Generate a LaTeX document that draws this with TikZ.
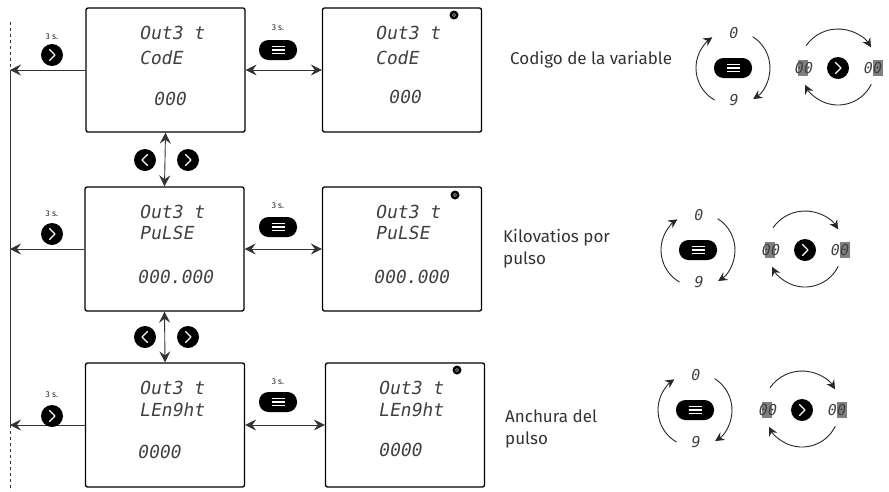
\documentclass[tikz,border=0pt]{standalone}
\usepackage{fontspec}
\setmainfont{Fira Sans}
\newfontfamily\segfont{DejaVu Sans Mono}[FakeSlant=0.18]
\usetikzlibrary{arrows.meta,calc}

\tikzset{
  screen/.style={draw=black,line width=1.3pt,rounded corners=2pt,minimum width=159pt,minimum height=124pt,inner sep=0pt},
  seg/.style={font=\segfont\fontsize{18}{18}\selectfont,text=black!75,inner sep=0pt,anchor=west},
  segsmall/.style={font=\segfont\fontsize{15}{15}\selectfont,text=black!75,inner sep=0pt},
  flow/.style={line width=0.9pt,draw=black!80,-{Stealth[length=11pt,width=11pt,inset=4pt]}},
  twoway/.style={line width=0.9pt,draw=black!80,{Stealth[length=11pt,width=11pt,inset=4pt]}-{Stealth[length=11pt,width=11pt,inset=4pt]}},
  turn/.style={line width=0.9pt,draw=black!85,-{Stealth[length=9pt,width=9pt,inset=3pt]}},
  secs/.style={font=\fontsize{8.5}{8.5}\selectfont,text=black!85,inner sep=0pt},
  caption/.style={font=\fontsize{17}{22}\selectfont,text=black!80,anchor=west,align=left,inner sep=0pt},
  nextbtn/.pic={
    \fill[black] (0,0) circle (11);
    \draw[white,line width=1.2pt,line cap=round,line join=round] (-2.5,-5.5) -- (3,0) -- (-2.5,5.5);
  },
  prevbtn/.pic={
    \fill[black] (0,0) circle (11);
    \draw[white,line width=1.2pt,line cap=round,line join=round] (2.5,-5.5) -- (-3,0) -- (2.5,5.5);
  },
  menubtn/.pic={
    \fill[black,rounded corners=9.5pt] (-19,-10) rectangle (19,10);
    \foreach \dy in {-3.2,0,3.2}
      \draw[white,line width=1.1pt] (-6.5,\dy) -- (6.5,\dy);
  },
  editdot/.pic={
    \fill[black] (0,0) circle (4.5);
    \draw[black!45,line width=0.6pt] (0,0) circle (1.6);
  },
  menucycle/.pic={
    \pic {menubtn};
    \node[segsmall] (-zero) at (0,-35) {0};
    \node[segsmall] (-nine) at (0,32) {9};
    \draw[turn] (120:37) arc (120:236:37);
    \draw[turn] (-58:37) arc (-58:57:37);
  },
  digitshift/.pic={
    \pic {nextbtn};
    \fill[black!50] (-40,-8) rectangle (-30,8);
    \fill[black!50] (35,-8) rectangle (45,8);
    \node[segsmall] (-from) at (-35,0) {00};
    \node[segsmall] (-to) at (34,0) {00};
    \draw[turn] (-145:39) arc (-145:-32:39);
    \draw[turn] (26:37) arc (26:153:37);
  }
}

\begin{document}
\begin{tikzpicture}[x=1pt,y=-1pt]
\useasboundingbox (0,0) rectangle (889,491);

% displays
\node[screen] (codeL) at (165.5,70) {};
\node[screen] (codeR) at (402,70) {};
\node[screen] (pulseL) at (164.5,249) {};
\node[screen] (pulseR) at (402,249) {};
\node[screen] (lenL) at (165,425) {};
\node[screen] (lenR) at (405,425) {};

\node[seg] (codeLa) at (139,33) {Out3 t};
\node[seg] (codeLb) at (139,58) {CodE};
\node[seg] (codeLc) at (153,99) {000};
\node[seg] (codeRa) at (375,33) {Out3 t};
\node[seg] (codeRb) at (375,58) {CodE};
\node[seg] (codeRc) at (388,97) {000};

\node[seg] (pulseLa) at (139,212) {Out3 t};
\node[seg] (pulseLb) at (139,233) {PuLSE};
\node[seg] (pulseLc) at (137,277) {000.000};
\node[seg] (pulseRa) at (375,212) {Out3 t};
\node[seg] (pulseRb) at (375,233) {PuLSE};
\node[seg] (pulseRc) at (373,277) {000.000};

\node[seg] (lenLa) at (139,388) {Out3 t};
\node[seg] (lenLb) at (139,410) {LEn9ht};
\node[seg] (lenLc) at (137,452) {0000};
\node[seg] (lenRa) at (378,388) {Out3 t};
\node[seg] (lenRb) at (378,410) {LEn9ht};
\node[seg] (lenRc) at (378,450) {0000};

\pic (dot1) at (454,15) {editdot};
\pic (dot2) at (455,195) {editdot};
\pic (dot3) at (457,370) {editdot};

% return line
\coordinate (busx) at (10,0);
\coordinate (bustop) at (10,22);
\coordinate (busbot) at (10,491);
\draw[line width=0.9pt,draw=black!80,dashed] (bustop) -- (codeL.west -| busx);
\draw[line width=0.9pt,draw=black!80] (codeL.west -| busx) -- (lenL.west -| busx);
\draw[line width=0.9pt,draw=black!80,dashed] (lenL.west -| busx) -- (busbot);

\draw[flow] (codeL.west) -- (codeL.west -| busx);
\draw[flow] (pulseL.west) -- (pulseL.west -| busx);
\draw[flow] (lenL.west) -- (lenL.west -| busx);

\node[secs] (back1) at (52,37) {3 s.};
\pic (next1) at (52,55) {nextbtn};
\node[secs] (back2) at (52,214) {3 s.};
\pic (next2) at (52,234) {nextbtn};
\node[secs] (back3) at (52,395) {3 s.};
\pic (next3) at (52,416) {nextbtn};

% edit mode
\draw[twoway] (codeL.east) -- (codeR.west);
\draw[twoway] (pulseL.east) -- (pulseR.west);
\draw[twoway] (lenL.east) -- (lenR.west);

\node[secs] (hold1) at (278,28) {3 s.};
\pic (menu1) at (278,50) {menubtn};
\node[secs] (hold2) at (278,206) {3 s.};
\pic (menu2) at (278,227) {menubtn};
\node[secs] (hold3) at (278,382) {3 s.};
\pic (menu3) at (278,402) {menubtn};

% scrolling
\draw[twoway] (codeL.south) -- (pulseL.north);
\draw[twoway] (pulseL.south) -- (lenL.north);
\pic (up1) at (145,160) {prevbtn};
\pic (down1) at (188,160) {nextbtn};
\pic (up2) at (145,337) {prevbtn};
\pic (down2) at (188,337) {nextbtn};

% captions and keys
\node[caption] (capcode) at (510,60) {Codigo de la variable};
\node[caption] (cappulse) at (503,249) {Kilovatios por\\pulso};
\node[caption] (caplen) at (505,429) {Anchura del\\pulso};

\pic (cyc1) at (733,68) {menucycle};
\pic (shift1) at (838,68) {digitshift};
\pic (cyc2) at (698,250) {menucycle};
\pic (shift2) at (805,250) {digitshift};
\pic (cyc3) at (695,410) {menucycle};
\pic (shift3) at (802,410) {digitshift};
\end{tikzpicture}
\end{document}
